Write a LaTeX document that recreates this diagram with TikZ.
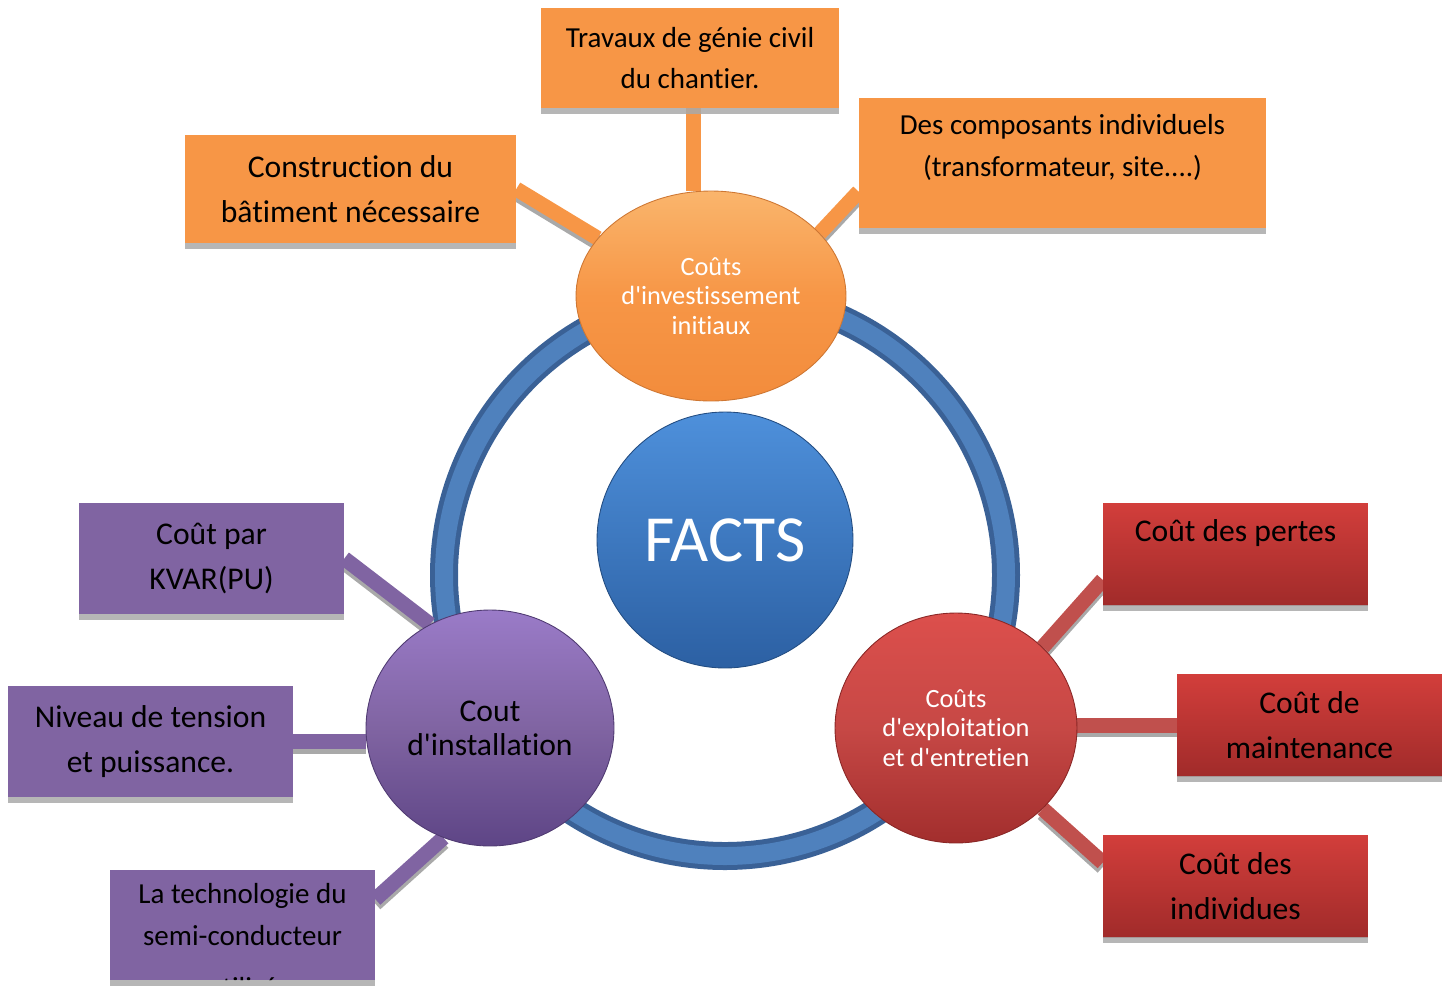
\documentclass[tikz,border=0pt]{standalone}
\usepackage{fontspec}
\setmainfont{Carlito}[Ligatures={TeX,NoCommon}]
\usetikzlibrary{shapes.geometric}
\definecolor{orangeF}{HTML}{F79646}
\definecolor{orangeT}{HTML}{FAB56C}
\definecolor{orangeB}{HTML}{F28C3C}
\definecolor{purpleF}{HTML}{8064A2}
\definecolor{purpleT}{HTML}{9A7BC8}
\definecolor{purpleB}{HTML}{5E4586}
\definecolor{redT}{HTML}{D23E3B}
\definecolor{redB}{HTML}{A12B2A}
\definecolor{redbar}{HTML}{C0504D}
\definecolor{redcT}{HTML}{DC4F4C}
\definecolor{redcB}{HTML}{A22E2D}
\definecolor{shadowG}{HTML}{A9A9A9}
\definecolor{ringdark}{HTML}{3A6196}
\definecolor{ringfill}{HTML}{4F81BD}
\definecolor{factsT}{HTML}{4E90DB}
\definecolor{factsB}{HTML}{2C60A3}
\newcommand\apos{\textquotesingle}
\newcommand\tii{t\kern0pt i}
\newcommand\ftbig{\fontsize{18}{25.5}\selectfont}
\newcommand\ftsmall{\fontsize{16.5}{23.5}\selectfont}
\pgfdeclarelayer{bg}
\pgfsetlayers{bg,main}
\begin{document}
\begin{tikzpicture}[x=0.02cm,y=-0.02cm,
  boxtext/.style={inner sep=0pt, align=center, text=black, font=\ftbig},
  box/.style={boxtext, rectangle},
  obox/.style={box, fill=orangeF},
  pbox/.style={box, fill=purpleF},
  rbox/.style={box, top color=redT, bottom color=redB},
  boxshadow/.style={fill=shadowG, opacity=0.85},
  bar/.style={line width=0.3cm},
  obar/.style={bar, draw=orangeF},
  pbar/.style={bar, draw=purpleF},
  rbar/.style={bar, draw=redbar},
  sbar/.style={bar, draw=shadowG},
  bubble/.style={ellipse, inner sep=0pt, align=center},
]
\useasboundingbox (0,0) rectangle (1451,985);

% ---------- central ring ----------
\coordinate (ringc) at (725,575);

% ---------- bubbles ----------
\node[bubble, minimum width=5.12cm, minimum height=5.12cm, top color=factsT, bottom color=factsB,
      draw=factsB!80!black, line width=0.5pt, text=white, font=\fontsize{37.5}{40}\selectfont]
      (facts) at (725,540) {FACTS};
\node[bubble, minimum width=5.4cm, minimum height=4.2cm, top color=orangeT, bottom color=orangeB,
      middle color=orangeF, draw=orangeB!85!black, line width=0.5pt, text=white,
      font=\fontsize{15}{16.8}\selectfont]
      (inv) at (711,296) {Coûts\\d\apos inves\tii ssement\\ini\tii aux};
\node[bubble, minimum width=4.96cm, minimum height=4.72cm, top color=purpleT, bottom color=purpleB,
      middle color=purpleF, draw=purpleB!85!black, line width=0.5pt, text=black,
      font=\fontsize{18}{19.5}\selectfont]
      (inst) at (490,728) {Cout\\d\apos installa\tii on};
\node[bubble, minimum width=4.84cm, minimum height=4.6cm, top color=redcT, bottom color=redcB,
      middle color=redbar!90!red, draw=redcB!85!black, line width=0.5pt, text=white,
      font=\fontsize{15}{16.8}\selectfont]
      (expl) at (956,728) {Coûts\\d\apos exploita\tii on\\et d\apos entre\tii en};

% ---------- boxes ----------
\node[obox, font=\ftsmall, minimum width=5.96cm, minimum height=2cm] (trav) at (690,58)
      {Travaux de génie civil\\du chan\tii er.};
\node[obox, minimum width=6.62cm, minimum height=2.16cm] (constr) at (350.5,189)
      {Construc\tii on du\\bâ\tii ment nécessaire};
\node[obox, minimum width=8.14cm, minimum height=2.6cm] (comp) at (1062.5,163) {};
\node[boxtext, font=\ftsmall] (comptxt) at ([yshift=0.31cm]comp.center)
      {Des composants individuels\\(transformateur, site....)};

\node[pbox, minimum width=5.3cm, minimum height=2.22cm] (kvar) at (211.5,558.5)
      {Coût par\\KVAR(PU)};
\node[pbox, minimum width=5.7cm, minimum height=2.22cm] (niv) at (150.5,741.5)
      {Niveau de tension\\et puissance.};
\node[pbox, minimum width=5.3cm, minimum height=2.2cm] (tech) at (242.5,925) {};
\begin{scope}
  \clip (tech.south west) rectangle (tech.north east);
  \node[boxtext, font=\fontsize{16.5}{23.8}\selectfont, anchor=north] (techtxt)
        at ([yshift=-0.27cm]tech.north)
        {La technologie du\\semi-conducteur\\[6pt]u\tii lisé};
\end{scope}

\node[rbox, minimum width=5.3cm, minimum height=2.04cm] (pertes) at (1235.5,554) {};
\node[boxtext] (pertestxt) at ([yshift=0.42cm]pertes.center) {Coût des pertes};
\node[rbox, minimum width=5.3cm, minimum height=2.04cm] (maint) at (1309.5,725)
      {Coût de\\maintenance};
\node[rbox, minimum width=5.3cm, minimum height=2.04cm] (indiv) at (1235.5,886)
      {Coût des\\individues};

% box shadows
\foreach \b in {trav,constr,comp,kvar,niv,tech,pertes,maint,indiv}
  \fill[boxshadow] (\b.south west) rectangle ([yshift=-0.12cm]\b.south east);

% ---------- background: ring and connectors ----------
\begin{pgfonlayer}{bg}
  \draw[ringdark, line width=0.56cm] (ringc) circle[radius=281];
  \draw[ringfill, line width=0.36cm] (ringc) circle[radius=281];

  % orange connectors
  \draw[obar] ([xshift=0.06cm]trav.south) -- ([xshift=0.06cm]trav.south |- inv.north);
  \draw[sbar] ([yshift=-0.09cm]constr.east) -- ([yshift=-0.09cm]inv.153);
  \draw[obar] (constr.east) -- (inv.153);
  \draw[sbar] ([yshift=-0.09cm]comp.188) -- ([yshift=-0.09cm]inv.30);
  \draw[obar] (comp.188) -- (inv.30);

  % purple connectors
  \draw[sbar] ([yshift=-0.09cm]kvar.east) -- ([yshift=-0.09cm]inst.120);
  \draw[pbar] (kvar.east) -- (inst.120);
  \draw[sbar] ([yshift=-0.09cm]niv.east) -- ([yshift=-0.09cm]niv.east -| inst.west);
  \draw[pbar] (niv.east) -- (niv.east -| inst.west);
  \draw[sbar] ([yshift=-0.09cm]tech.11) -- ([yshift=-0.09cm]inst.247);
  \draw[pbar] (tech.11) -- (inst.247);

  % red connectors
  \draw[sbar] ([yshift=-0.09cm]pertes.191) -- ([yshift=-0.09cm]expl.43);
  \draw[rbar] (pertes.191) -- (expl.43);
  \draw[sbar] ([yshift=-0.09cm]maint.west) -- ([yshift=-0.09cm]maint.west -| expl.east);
  \draw[rbar] (maint.west) -- (maint.west -| expl.east);
  \draw[sbar] ([yshift=-0.09cm]indiv.170) -- ([yshift=-0.09cm]expl.-43);
  \draw[rbar] (indiv.170) -- (expl.-43);
\end{pgfonlayer}
\end{tikzpicture}
\end{document}
